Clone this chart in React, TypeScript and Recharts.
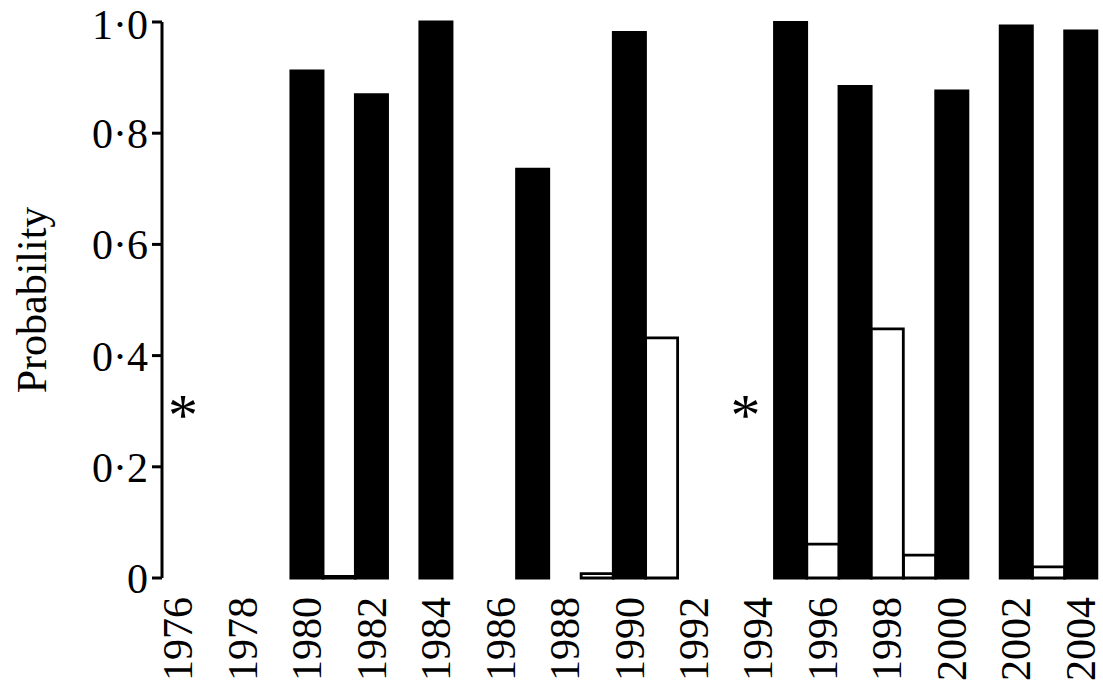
import React from "react";
import { BarChart, Bar, XAxis, YAxis, ReferenceDot, Label } from "recharts";

const years = [
  1976, 1977, 1978, 1979, 1980, 1981, 1982, 1983, 1984, 1985, 1986, 1987, 1988, 1989, 1990,
  1991, 1992, 1993, 1994, 1995, 1996, 1997, 1998, 1999, 2000, 2001, 2002, 2003, 2004,
];

// black bars
const blackValues: (number | null)[] = [
  null, null, null, null, 0.912, null, 0.869, null, 1.0, null, null, 0.735, null, null, 0.981,
  null, null, null, null, 0.999, null, 0.884, null, null, 0.876, null, 0.993, null, 0.984,
];

// open (white) bars
const whiteValues: (number | null)[] = [
  null, null, null, null, null, 0.003, null, null, null, null, null, null, null, 0.008, null,
  0.432, null, null, null, null, 0.061, null, 0.448, 0.041, null, null, null, 0.02, null,
];

const yTicks = [0, 0.2, 0.4, 0.6, 0.8, 1.0];
const yLabel = "Probability";

// asterisk annotations: years marked and the probability level they sit at
const starYears = [1976, 1994];
const starY = 0.305;

const boundaryTicks = [...years, years[years.length - 1] + 1];

const data = years.map((y, i) => ({
  year: String(y),
  black: blackValues[i],
  white: whiteValues[i],
}));

const FONT = "'Liberation Serif', 'Times New Roman', serif";
const FS = 42;

const fmtY = (v: number) => (v === 0 ? "0" : v.toFixed(1).replace(".", "\u00b7"));

const YearTick = (props: any) => {
  const { x, y, payload } = props;
  return (
    <text
      x={x}
      y={y}
      transform={`rotate(-90, ${x}, ${y})`}
      textAnchor="end"
      dominantBaseline="central"
      fontFamily={FONT}
      fontSize={FS}
      fill="#000"
    >
      {payload.value}
    </text>
  );
};

const Star = (props: any) => {
  const { cx, cy, shift } = props;
  return (
    <text
      x={cx}
      y={cy}
      dx={shift || 0}
      dy={27}
      textAnchor="middle"
      fontFamily={FONT}
      fontSize={60}
      fill="#000"
    >
      *
    </text>
  );
};

const YLabelContent = (props: any) => {
  const vb = props.viewBox || { x: 0, y: 22, width: 162, height: 556 };
  const x = vb.x + 46;
  const y = vb.y + vb.height / 2;
  return (
    <text
      x={x}
      y={y}
      transform={`rotate(-90, ${x}, ${y})`}
      textAnchor="middle"
      fontFamily={FONT}
      fontSize={FS}
      fill="#000"
    >
      {yLabel}
    </text>
  );
};

// small horizontal nudges of the asterisks relative to their year slots
const starShift = [5, -13];

export default function App() {
  return (
    <div style={{ width: 1103, height: 689, background: "#fff" }}>
      <style>{"body{margin:0;background:#fff}"}</style>
      <BarChart
        width={1103}
        height={689}
        data={data}
        margin={{ top: 22, right: 6, bottom: 0, left: 0 }}
        barCategoryGap={0}
        barGap={0}
      >
        <XAxis
          xAxisId="grid"
          type="number"
          domain={[boundaryTicks[0], boundaryTicks[boundaryTicks.length - 1]]}
          ticks={boundaryTicks}
          allowDataOverflow
          height={0}
          tickSize={11}
          tickFormatter={() => ""}
          axisLine={{ stroke: "#000", strokeWidth: 3 }}
          tickLine={{ stroke: "#000", strokeWidth: 3 }}
        />
        <XAxis
          xAxisId="cat"
          dataKey="year"
          type="category"
          interval={1}
          height={111}
          tickSize={0}
          tickMargin={19}
          axisLine={false}
          tickLine={false}
          tick={<YearTick />}
        />
        <YAxis
          domain={[0, 1]}
          ticks={yTicks}
          width={162}
          tickSize={10}
          tickMargin={4}
          tickFormatter={fmtY}
          axisLine={{ stroke: "#000", strokeWidth: 3 }}
          tickLine={{ stroke: "#000", strokeWidth: 3 }}
          tick={{ fontFamily: FONT, fontSize: FS, fill: "#000" }}
        >
          <Label content={<YLabelContent />} />
        </YAxis>
        <Bar
          xAxisId="cat"
          dataKey="black"
          stackId="s"
          fill="#000"
          stroke="#000"
          strokeWidth={3}
          isAnimationActive={false}
        />
        <Bar
          xAxisId="cat"
          dataKey="white"
          stackId="s"
          fill="#fff"
          stroke="#000"
          strokeWidth={2.8}
          isAnimationActive={false}
        />
        {starYears.map((sy, i) => (
          <ReferenceDot
            key={sy}
            xAxisId="cat"
            x={String(sy)}
            y={starY}
            r={0}
            shape={<Star shift={starShift[i]} />}
            ifOverflow="visible"
          />
        ))}
      </BarChart>
    </div>
  );
}
